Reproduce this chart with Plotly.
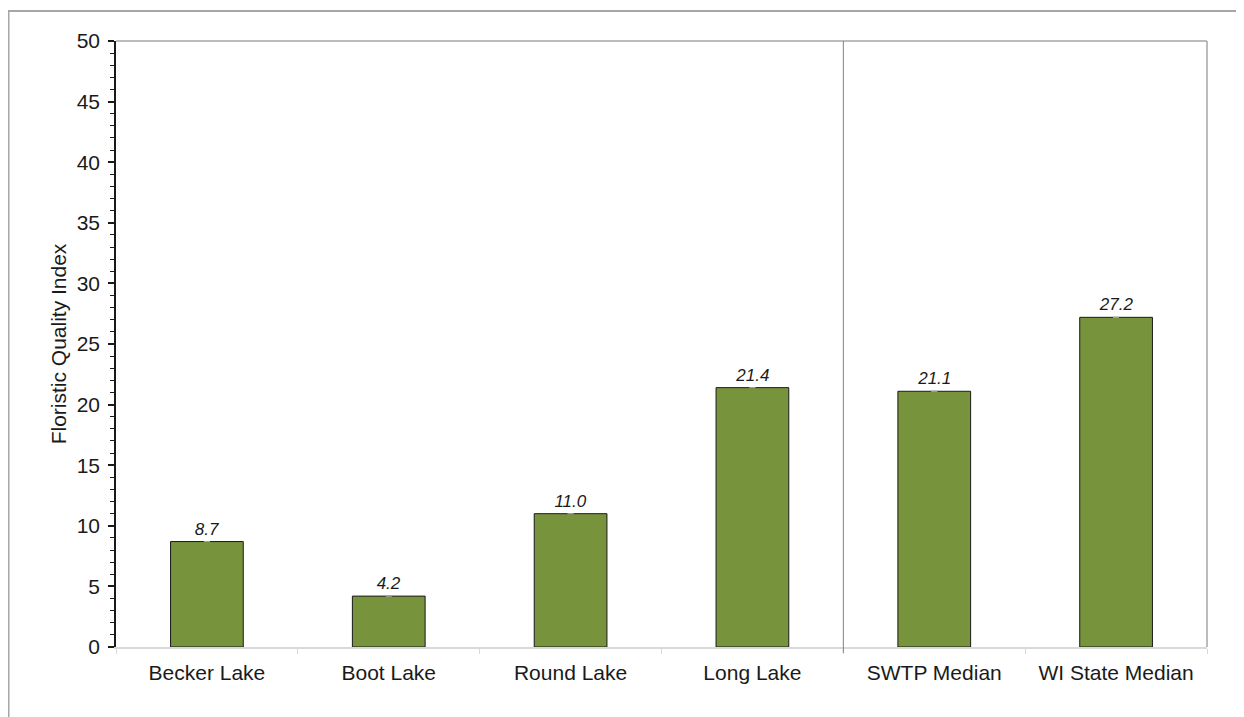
import plotly.graph_objects as go

categories = ["Becker Lake", "Boot Lake", "Round Lake", "Long Lake", "SWTP Median", "WI State Median"]
fqi_values = [8.7, 4.2, 11.0, 21.4, 21.1, 27.2]
label_texts = ["8.7", "4.2", "11.0", "21.4", "21.1", "27.2"]
y_ticks = [0, 5, 10, 15, 20, 25, 30, 35, 40, 45, 50]

OFF = 8  # page body margin
W, H = 1244, 717
# desired plot area in page pixels: x 116..1207, y 41..647
L = 116 - OFF
T = 41 - OFF
R = W - (1207 - OFF)
B = H - (647 - OFF)
pw, ph = W - L - R, H - T - B

def px_x(p):
    return (p - OFF - L) / pw

def px_y(p):
    return (H - B - (p - OFF)) / ph

fig = go.Figure()
fig.add_trace(go.Bar(
    x=categories, y=fqi_values, width=0.4,
    marker=dict(color="#77933C", line=dict(color="#1a1a1a", width=1)),
    text=label_texts, textposition="outside", cliponaxis=False,
    textfont=dict(family="Liberation Sans, Arial", size=17, color="#1a1a1a"),
    texttemplate="<i>%{text}</i>",
    error_y=dict(type="data", array=[0]*6, visible=True, color="#a0a0a0", thickness=1, width=3),
))

shapes = [
    dict(type="rect", xref="paper", yref="paper", x0=px_x(8.5), x1=px_x(1270), y0=px_y(760), y1=px_y(11),
         line=dict(color="#a6a6a6", width=2), layer="below"),
    dict(type="line", xref="paper", yref="paper", x0=0, x1=1, y0=1, y1=1, line=dict(color="#a6a6a6", width=1.5)),
    dict(type="line", xref="paper", yref="paper", x0=1, x1=1, y0=0, y1=1, line=dict(color="#a6a6a6", width=1.5)),
    dict(type="line", xref="x", yref="paper", x0=3.5, x1=3.5, y0=px_y(653), y1=1, line=dict(color="#808080", width=1)),
]

fig.update_layout(
    width=W, height=H,
    margin=dict(l=L, r=R, t=T, b=B),
    paper_bgcolor="white", plot_bgcolor="white",
    showlegend=False,
    font=dict(family="Liberation Sans, Arial", size=21, color="#1a1a1a"),
    shapes=shapes,
    xaxis=dict(
        showline=True, linecolor="#d9d9d9", linewidth=1.5,
        ticks="outside", tickson="boundaries", ticklen=5, tickcolor="#d9d9d9",
        showgrid=False, tickfont=dict(size=21), ticklabelstandoff=6,
    ),
    yaxis=dict(
        range=[0, 50], tickvals=y_ticks, showgrid=False, zeroline=False,
        showline=True, linecolor="#1a1a1a", linewidth=1.5,
        ticks="outside", ticklen=6, tickcolor="#1a1a1a", tickwidth=1.5,
        minor=dict(ticks="outside", ticklen=4, dtick=1, tickcolor="#1a1a1a", tickwidth=1),
        tickfont=dict(size=21), ticklabelstandoff=4,
        title=dict(text="Floristic Quality Index", font=dict(size=21), standoff=4),
    ),
)

fig.write_html("out.html")
